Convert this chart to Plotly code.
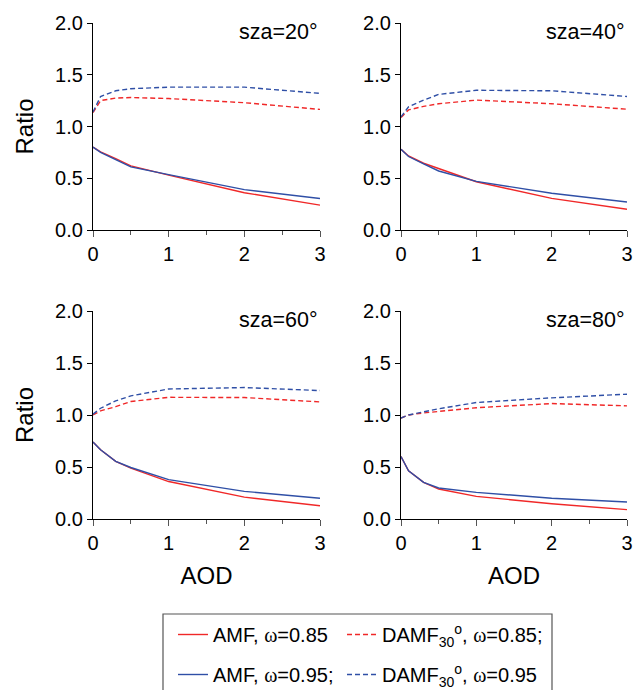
import plotly.graph_objects as go
from plotly.subplots import make_subplots

aod = [0, 0.1, 0.3, 0.5, 1, 2, 3]

# sza = 20
amf85_20 = [0.80, 0.755, 0.69, 0.62, 0.53, 0.36, 0.24]
amf95_20 = [0.80, 0.75, 0.68, 0.61, 0.535, 0.39, 0.305]
damf85_20 = [1.135, 1.25, 1.275, 1.28, 1.27, 1.23, 1.165]
damf95_20 = [1.14, 1.29, 1.345, 1.365, 1.38, 1.38, 1.32]

# sza = 40
amf85_40 = [0.78, 0.715, 0.645, 0.595, 0.466, 0.305, 0.20]
amf95_40 = [0.78, 0.71, 0.64, 0.57, 0.47, 0.355, 0.27]
damf85_40 = [1.087, 1.16, 1.195, 1.22, 1.255, 1.22, 1.167]
damf95_40 = [1.093, 1.19, 1.255, 1.31, 1.35, 1.345, 1.29]

# sza = 60
amf85_60 = [0.74, 0.665, 0.555, 0.49, 0.36, 0.21, 0.128]
amf95_60 = [0.74, 0.665, 0.555, 0.495, 0.378, 0.266, 0.20]
damf85_60 = [1.0, 1.04, 1.08, 1.13, 1.17, 1.168, 1.126]
damf95_60 = [1.008, 1.065, 1.136, 1.184, 1.25, 1.264, 1.235]

# sza = 80
amf85_80 = [0.60, 0.464, 0.352, 0.288, 0.218, 0.147, 0.09]
amf95_80 = [0.60, 0.464, 0.352, 0.298, 0.256, 0.20, 0.163]
damf85_80 = [0.97, 1.0, 1.02, 1.035, 1.07, 1.11, 1.088]
damf95_80 = [0.97, 1.0, 1.03, 1.06, 1.12, 1.165, 1.2]

panels = [
    ("sza=20°", amf85_20, amf95_20, damf85_20, damf95_20),
    ("sza=40°", amf85_40, amf95_40, damf85_40, damf95_40),
    ("sza=60°", amf85_60, amf95_60, damf85_60, damf95_60),
    ("sza=80°", amf85_80, amf95_80, damf85_80, damf95_80),
]

red = "#f02828"
blue = "#2f4fa6"
W, H = 633, 690
FONT = "Liberation Sans, Arial, sans-serif"
om = "<span style='font-family:Liberation Serif'>ω</span>"

names = [
    "AMF, " + om + "=0.85",
    "DAMF<sub>30</sub><sup>o</sup>, " + om + "=0.85;",
    "AMF, " + om + "=0.95;",
    "DAMF<sub>30</sub><sup>o</sup>, " + om + "=0.95",
]

fig = make_subplots(rows=2, cols=2)

# pixel boxes of the four plot areas (left, right, top, bottom)
boxes = [(93, 320, 23, 230), (401, 627, 23, 230),
         (93, 320, 311, 519), (401, 627, 311, 519)]

for i, (label, a85, a95, d85, d95) in enumerate(panels):
    r, c = i // 2 + 1, i % 2 + 1
    first = i == 0
    # solid lines in the first legend column, dashed in the second
    series = [
        (a85, red, "solid", names[0], "legend", "g1"),
        (d85, red, "5px,3px", names[1], "legend2", "g2"),
        (a95, blue, "solid", names[2], "legend", "g3"),
        (d95, blue, "5px,3px", names[3], "legend2", "g4"),
    ]
    for ys, col, dash, nm, lg, grp in series:
        fig.add_trace(go.Scatter(x=aod, y=ys, mode="lines", name=nm,
                                 line=dict(color=col, width=1.4, dash=dash),
                                 showlegend=first, legend=lg, legendgroup=grp),
                      row=r, col=c)
    x0, x1, y0, y1 = boxes[i]
    fig.update_xaxes(domain=[x0 / W, x1 / W], range=[0, 3], tickvals=[0, 1, 2, 3],
                     ticks="outside", ticklen=6, tickcolor="#555", showline=True,
                     linecolor="black", linewidth=1.2, showgrid=False, zeroline=False,
                     automargin=False,
                     minor=dict(dtick=0.5, ticks="outside", ticklen=4, tickcolor="#555"),
                     title=dict(text="AOD" if r == 2 else "", standoff=14),
                     row=r, col=c)
    fig.update_yaxes(domain=[1 - y1 / H, 1 - y0 / H], range=[0, 2], dtick=0.5,
                     tickformat=".1f", ticks="outside", ticklen=5, tickcolor="black",
                     showline=True, linecolor="black", linewidth=1.2,
                     showgrid=False, zeroline=False, automargin=False,
                     title=dict(text="Ratio" if c == 1 else "", standoff=14),
                     row=r, col=c)
    xr = "x domain" if i == 0 else "x%d domain" % (i + 1)
    yr = "y domain" if i == 0 else "y%d domain" % (i + 1)
    fig.add_annotation(text=label, xref=xr, yref=yr, x=1.0, y=0.955,
                       xanchor="right", yanchor="middle", showarrow=False,
                       font=dict(size=21.5, color="black", family=FONT))

# legend frame
fig.add_shape(type="rect", xref="paper", yref="paper",
              x0=163 / W, x1=552 / W, y0=-0.05, y1=1 - 614 / H,
              line=dict(color="#555", width=1.2), fillcolor="rgba(0,0,0,0)")

leg = dict(orientation="v", xanchor="left", yanchor="top", tracegroupgap=11,
           bgcolor="rgba(0,0,0,0)", font=dict(size=20, family=FONT, color="black"),
           itemwidth=30)
fig.update_layout(
    width=W, height=H,
    margin=dict(l=0, r=0, t=0, b=0, autoexpand=False),
    paper_bgcolor="white", plot_bgcolor="white",
    font=dict(family=FONT, size=20, color="black"),
    legend=dict(leg, x=173 / W, y=1 - 615 / H),
    legend2=dict(leg, x=342 / W, y=1 - 615 / H),
)

# drop the page's default body margin so the figure sits at the window corner
fig.write_html("out.html", config={"displayModeBar": False},
               post_script="document.body.style.margin='0';")
